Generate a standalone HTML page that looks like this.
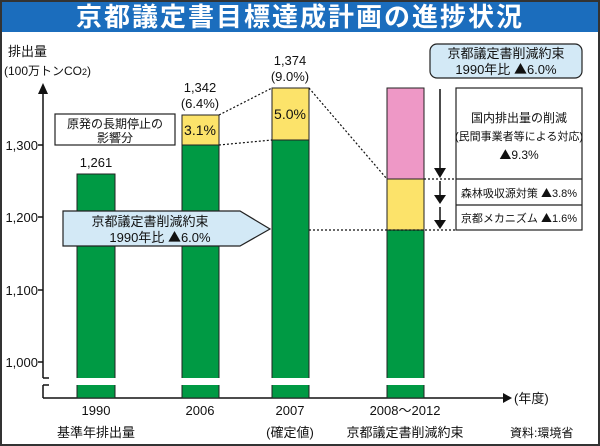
<!DOCTYPE html>
<html><head><meta charset="utf-8"><style>
body{margin:0;background:#fff}
svg{display:block;font-family:"Liberation Sans","Noto Sans CJK JP",sans-serif}
.t{font-family:"Noto Sans CJK JP",sans-serif}
</style></head><body>
<svg width="600" height="446" viewBox="0 0 600 446">
<rect x="0" y="0" width="600" height="446" fill="#fff"/>
<rect x="0" y="0" width="600" height="32" fill="#1b6dbd"/>
<text x="300" y="26" text-anchor="middle" font-size="26" font-weight="bold" letter-spacing="2" fill="#fff">京都議定書目標達成計画の進捗状況</text>
<rect x="1" y="1" width="598" height="444" fill="none" stroke="#333" stroke-width="2"/>

<text x="8" y="56" font-size="13" fill="#111">排出量</text>
<text x="4" y="75" font-size="12" fill="#111">(100万トンCO<tspan font-size="9">2</tspan>)</text>

<line x1="43" y1="92" x2="43" y2="378" stroke="#111" stroke-width="1.5"/>
<line x1="43" y1="385" x2="43" y2="398" stroke="#111" stroke-width="1.5"/>
<polygon points="43,83 38,94 48,94" fill="#111"/>
<line x1="43" y1="378" x2="49" y2="378" stroke="#111" stroke-width="1.5"/>
<line x1="43" y1="385" x2="49" y2="385" stroke="#111" stroke-width="1.5"/>
<line x1="43" y1="398" x2="504" y2="398" stroke="#111" stroke-width="1.5"/>
<polygon points="512,398 503,393 503,403" fill="#111"/>
<text x="514" y="403" font-size="13" fill="#111">(年度)</text>
<g font-size="13" fill="#111" text-anchor="end">
<line x1="38" y1="145" x2="43" y2="145" stroke="#111" stroke-width="1.5"/><text x="38" y="150">1,300</text>
<line x1="38" y1="217" x2="43" y2="217" stroke="#111" stroke-width="1.5"/><text x="38" y="222">1,200</text>
<line x1="38" y1="290" x2="43" y2="290" stroke="#111" stroke-width="1.5"/><text x="38" y="295">1,100</text>
<line x1="38" y1="362" x2="43" y2="362" stroke="#111" stroke-width="1.5"/><text x="38" y="367">1,000</text>
</g>

<g stroke="#222" stroke-width="1">
<rect x="77" y="174" width="38" height="224" fill="#009a44"/>
<rect x="182" y="145" width="37" height="253" fill="#009a44"/>
<rect x="182" y="115" width="37" height="30" fill="#fce36a"/>
<rect x="272" y="140" width="37" height="258" fill="#009a44"/>
<rect x="272" y="88" width="37" height="52" fill="#fce36a"/>
<rect x="387" y="230" width="37" height="168" fill="#009a44"/>
<rect x="387" y="179" width="37" height="51" fill="#fce36a"/>
<rect x="387" y="88" width="37" height="91" fill="#ee98c6"/>
</g>
<rect x="70" y="378" width="370" height="7" fill="#fff"/>

<g stroke="#111" stroke-width="1.2" stroke-dasharray="2,2" fill="none">
<line x1="219" y1="115" x2="272" y2="88"/>
<line x1="219" y1="145" x2="272" y2="140"/>
<line x1="309" y1="88" x2="387" y2="179"/>
<line x1="424" y1="179" x2="456" y2="179"/>
<line x1="309" y1="230" x2="456" y2="230"/>
</g>

<g font-size="13" fill="#111" text-anchor="middle">
<text x="96" y="167">1,261</text>
<text x="200" y="92">1,342</text>
<text x="200" y="108">(6.4%)</text>
<text x="290" y="65">1,374</text>
<text x="290" y="81">(9.0%)</text>
<text x="200" y="135" font-size="14">3.1%</text>
<text x="290" y="119" font-size="14">5.0%</text>
<text x="96" y="415">1990</text>
<text x="96" y="437">基準年排出量</text>
<text x="200" y="415">2006</text>
<text x="290" y="415">2007</text>
<text x="290" y="437">(確定値)</text>
<text x="405" y="415">2008〜2012</text>
<text x="405" y="437">京都議定書削減約束</text>
</g>
<text x="510" y="437" font-size="12" fill="#111">資料:環境省</text>

<rect x="55" y="114" width="120" height="31" fill="#fff" stroke="#222" stroke-width="1.2"/>
<text x="115" y="128" font-size="12" text-anchor="middle" fill="#111">原発の長期停止の</text>
<text x="115" y="142" font-size="12" text-anchor="middle" fill="#111">影響分</text>

<polygon points="63,211 240,211 270,229 240,246 63,246" fill="#d3e9f6" stroke="#222" stroke-width="1.2"/>
<text x="150" y="226" font-size="13" text-anchor="middle" fill="#111">京都議定書削減約束</text>
<text x="160" y="242" font-size="13" text-anchor="middle" fill="#111">1990年比 <tspan class="t">▲</tspan>6.0%</text>

<rect x="430" y="44" width="152" height="34" rx="7" fill="#d3e9f6" stroke="#222" stroke-width="1.2"/>
<text x="506" y="58" font-size="13" text-anchor="middle" fill="#111">京都議定書削減約束</text>
<text x="506" y="74" font-size="13" text-anchor="middle" fill="#111">1990年比 <tspan class="t">▲</tspan>6.0%</text>

<rect x="456" y="88" width="126" height="142" fill="#fff" stroke="#222" stroke-width="1.2"/>
<line x1="456" y1="179" x2="582" y2="179" stroke="#222" stroke-width="1.2"/>
<line x1="456" y1="205" x2="582" y2="205" stroke="#222" stroke-width="1.2"/>
<g fill="#111" text-anchor="middle">
<text x="519" y="122" font-size="12">国内排出量の削減</text>
<text x="519" y="140" font-size="11">(民間事業者等による対応)</text>
<text x="519" y="159" font-size="12"><tspan class="t">▲</tspan>9.3%</text>
<text x="519" y="197" font-size="11">森林吸収源対策 <tspan class="t">▲</tspan>3.8%</text>
<text x="519" y="222" font-size="11">京都メカニズム <tspan class="t">▲</tspan>1.6%</text>
</g>

<g stroke="#111" stroke-width="1.5">
<line x1="440" y1="89" x2="440" y2="170"/>
<line x1="440" y1="181" x2="440" y2="197"/>
<line x1="440" y1="207" x2="440" y2="222"/>
</g>
<g fill="#111">
<polygon points="434,168 446,168 440,178"/>
<polygon points="434,195 446,195 440,204"/>
<polygon points="434,220 446,220 440,229"/>
</g>
</svg>
</body></html>
